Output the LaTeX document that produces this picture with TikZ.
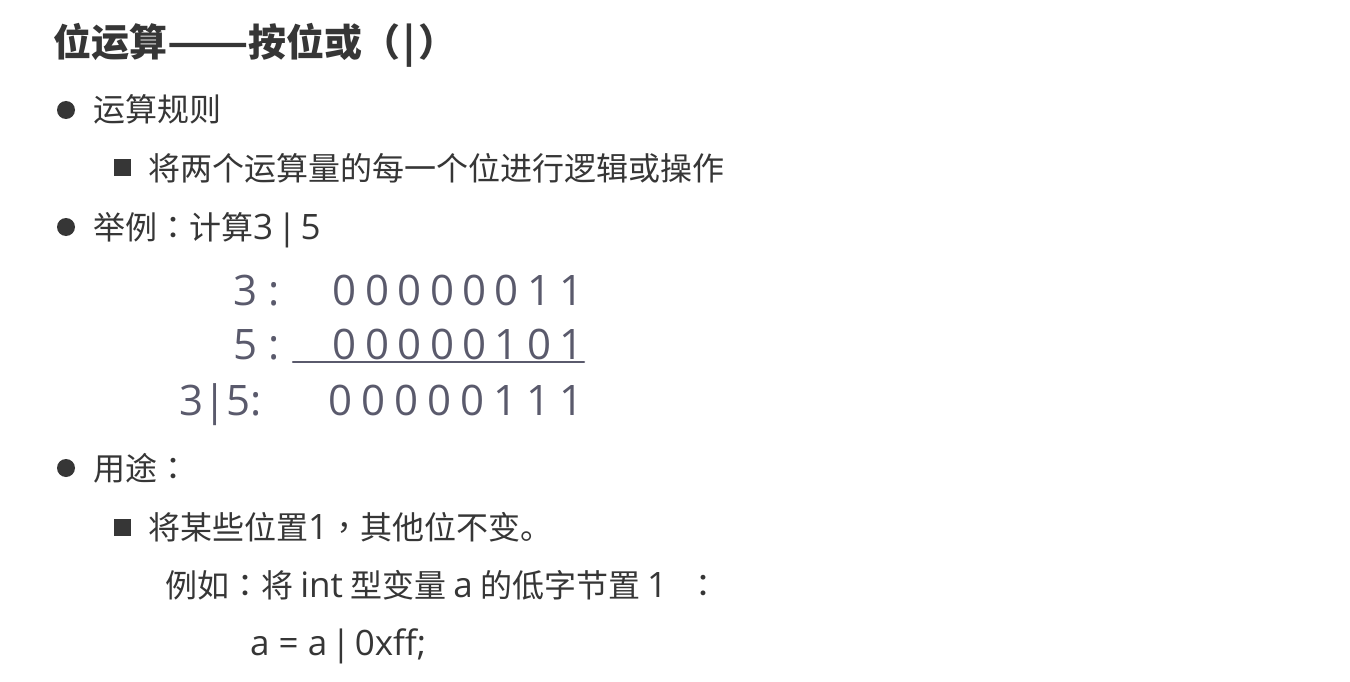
\documentclass[tikz,border=0pt]{standalone}
\usepackage{fontspec}
\newfontfamily\cjk{Noto Sans CJK SC}
\newfontfamily\pun{Noto Sans CJK TC}
\newfontfamily\lat{Open Sans}
\newfontfamily\bitfont{Open Sans}
\newcommand\lt[1]{{\lat\fontsize{35}{40}\selectfont #1}}
\newcommand\cl{{\pun ：}}
\newcommand\vb{\kern-5pt|\kern-5pt}
\definecolor{txtgray}{HTML}{363636}
\definecolor{bitgray}{HTML}{5A5A6C}
\begin{document}
\begin{tikzpicture}[x=1pt,y=-1pt,line cap=round]
		\tikzset{title/.style={font=\cjk\bfseries\fontsize{38}{44}\selectfont,text=txtgray,anchor=base west,inner sep=0pt},
		body/.style={font=\cjk\fontsize{32}{38}\selectfont,text=txtgray,anchor=base west,inner sep=0pt},
		dot/.style={circle,fill=txtgray,minimum size=18pt,inner sep=0pt},
		sq/.style={rectangle,fill=txtgray,minimum size=17pt,inner sep=0pt},
		bits/.style={font=\bitfont\fontsize{42}{48}\selectfont,text=bitgray,anchor=base,inner sep=0pt}}
		\useasboundingbox[fill=white] (0,0) rectangle (1350,682);
		% title
		\node[title] (ttl) at (53,57) {位运算\scalebox{1.25}[1]{——}按位或（\kern3pt|\kern3pt）};
		% rules
		\node[dot] (d1) at (66,110) {};
		\node[body] (rule) at (93,122) {运算规则};
		\node[sq] (s1) at (122,168) {};
		\node[body] (ruletxt) at (148,180) {将两个运算量的每一个位进行逻辑或操作};
		% example
		\node[dot] (d2) at (66,227) {};
		\node[body] (ex) at (93,239) {举例\cl 计算\lt{3 \vb{} 5}};
		\node[bits,anchor=base east] (la) at (280,305) {3 :};
		\node[bits,anchor=base east] (lb) at (280,359) {5 :};
		\node[bits,anchor=base east] (lc) at (262,415) {3|5:};
		\foreach \b [count=\i] in {0,0,0,0,0,0,1,1}
			\node[bits] (a\i) at (345+32.4*\i-32.4,305) {\b};
		\foreach \b [count=\i] in {0,0,0,0,0,1,0,1}
			\node[bits] (b\i) at (345+32.4*\i-32.4,359) {\b};
		\foreach \b [count=\i] in {0,0,0,0,0,1,1,1}
			\node[bits] (c\i) at (341+33*\i-33,415) {\b};
		\draw[bitgray,line width=2.5pt] (293,362) -- (584,362);
		% usage
		\node[dot] (d3) at (66,468) {};
		\node[body] (use) at (93,480) {用途\cl};
		\node[sq] (s2) at (122,527) {};
		\node[body] (usetxt) at (148,539) {将某些位置\lt{1}{\pun ，}其他位不变。};
		\node[body] (eg) at (165,597) {例如\cl 将 \lt{int} 型变量 \lt{a} 的低字节置 \lt{1}\hspace{20pt}\cl};
		\node[body] (code) at (250,655) {\lt{a = a \vb{} 0xff;}};
\end{tikzpicture}
\end{document}
